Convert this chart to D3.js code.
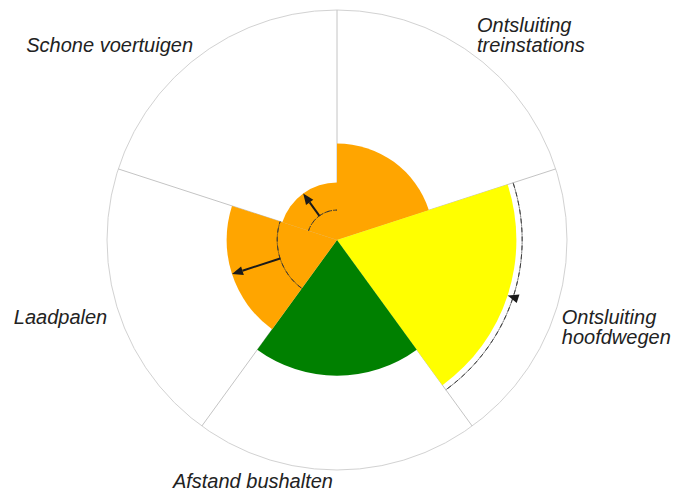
<!DOCTYPE html>
<html>
<head>
<meta charset="utf-8">
<script src="https://cdn.jsdelivr.net/npm/d3@7"></script>
<style>
  body { margin: 0; background: #fff; }
  .label { font-family: "Liberation Sans", Arial, sans-serif; font-style: italic; font-size: 20px; fill: #222; }
</style>
</head>
<body>
<script>
// categories, clockwise starting at 12 o'clock
var categories = ["Ontsluiting\ntreinstations", "Ontsluiting\nhoofdwegen", "Afstand bushalten", "Laadpalen", "Schone voertuigen"];
// current score (0-100) and previous score (null = no change shown)
var scores = [42, 78, 59, 48, 25];
var previous = [null, 80.5, null, 26, 13];
// rating class per category
var ratings = ["matig", "voldoende", "goed", "matig", "matig"];

var w = 673, h = 497;
var cx = 337, cy = 240, R = 230;

var data = categories.map(function(c, i) {
  return { name: c, score: scores[i], prev: previous[i], rating: ratings[i], i: i };
});

var svg = d3.select("body").append("svg")
  .attr("width", w)
  .attr("height", h);

var g = svg.append("g").attr("transform", "translate(" + cx + "," + cy + ")");

var rScale = d3.scaleLinear().domain([0, 100]).range([0, R]);
var color = d3.scaleOrdinal()
  .domain(["matig", "voldoende", "goed"])
  .range(["orange", "yellow", "green"]);

var step = 2 * Math.PI / categories.length;

/*** outer ring and spokes ***/
g.append("circle")
  .attr("r", R)
  .attr("fill", "none")
  .attr("stroke", "#d2d2d2")
  .attr("stroke-width", 1);

g.selectAll(".spoke")
  .data(data)
  .enter().append("line")
  .attr("class", "spoke")
  .attr("x1", 0).attr("y1", 0)
  .attr("x2", function(d) { return R * Math.sin(d.i * step); })
  .attr("y2", function(d) { return -R * Math.cos(d.i * step); })
  .attr("stroke", "#c4c4c4")
  .attr("stroke-width", 1);

/*** wedges ***/
var arc = d3.arc()
  .innerRadius(0)
  .outerRadius(function(d) { return rScale(d.score); })
  .startAngle(function(d) { return d.i * step; })
  .endAngle(function(d) { return (d.i + 1) * step; });

g.selectAll(".wedge")
  .data(data)
  .enter().append("path")
  .attr("class", "wedge")
  .attr("d", arc)
  .attr("fill", function(d) { return color(d.rating); });

/*** previous value arcs ***/
var prevArc = d3.arc()
  .innerRadius(function(d) { return rScale(d.prev); })
  .outerRadius(function(d) { return rScale(d.prev); })
  .startAngle(function(d) { return d.i * step; })
  .endAngle(function(d) { return (d.i + 1) * step; });

var withPrev = data.filter(function(d) { return d.prev != null; });

g.selectAll(".prev")
  .data(withPrev)
  .enter().append("path")
  .attr("class", "prev")
  .attr("d", prevArc)
  .attr("fill", "none")
  .attr("stroke", "#333")
  .attr("stroke-width", 0.8)
  .attr("stroke-dasharray", "5,1.5,1,1.5");

/*** change arrows ***/
var headLen = 11, headW = 4.5;
var arrows = g.selectAll(".arrow")
  .data(withPrev)
  .enter().append("g")
  .attr("class", "arrow")
  .attr("transform", function(d) { return "rotate(" + ((d.i + 0.5) * 72) + ")"; });

arrows.each(function(d) {
  var a = d3.select(this);
  var r0 = rScale(d.prev), r1 = rScale(d.score);
  var dir = r1 > r0 ? 1 : -1;
  var base = r1 - dir * headLen;
  if ((base - r0) * dir > 0) {
    a.append("line")
      .attr("x1", 0).attr("y1", -r0)
      .attr("x2", 0).attr("y2", -base)
      .attr("stroke", "#1a1a1a")
      .attr("stroke-width", 2);
  }
  a.append("path")
    .attr("d", "M0," + (-r1) + "L" + headW + "," + (-base) + "L" + (-headW) + "," + (-base) + "Z")
    .attr("fill", "#1a1a1a");
});

/*** labels ***/
var labelR = R + 20;
var nudge = [[-7, -6], [-13, 7], [-4, -2], [8, 7], [3, 14]];

var labels = svg.selectAll(".label")
  .data(data)
  .enter().append("text")
  .attr("class", "label")
  .attr("text-anchor", function(d) { return (d.i + 0.5) * 72 < 180 ? "start" : "end"; })
  .attr("transform", function(d) {
    var a = (d.i + 0.5) * step;
    var x = cx + labelR * Math.sin(a) + nudge[d.i][0];
    var y = cy - labelR * Math.cos(a) + nudge[d.i][1];
    return "translate(" + x + "," + y + ")";
  });

labels.selectAll("tspan")
  .data(function(d) { return d.name.split("\n"); })
  .enter().append("tspan")
  .attr("x", 0)
  .attr("y", function(d, j) { return j * 20; })
  .text(function(d) { return d; });
</script>
</body>
</html>
